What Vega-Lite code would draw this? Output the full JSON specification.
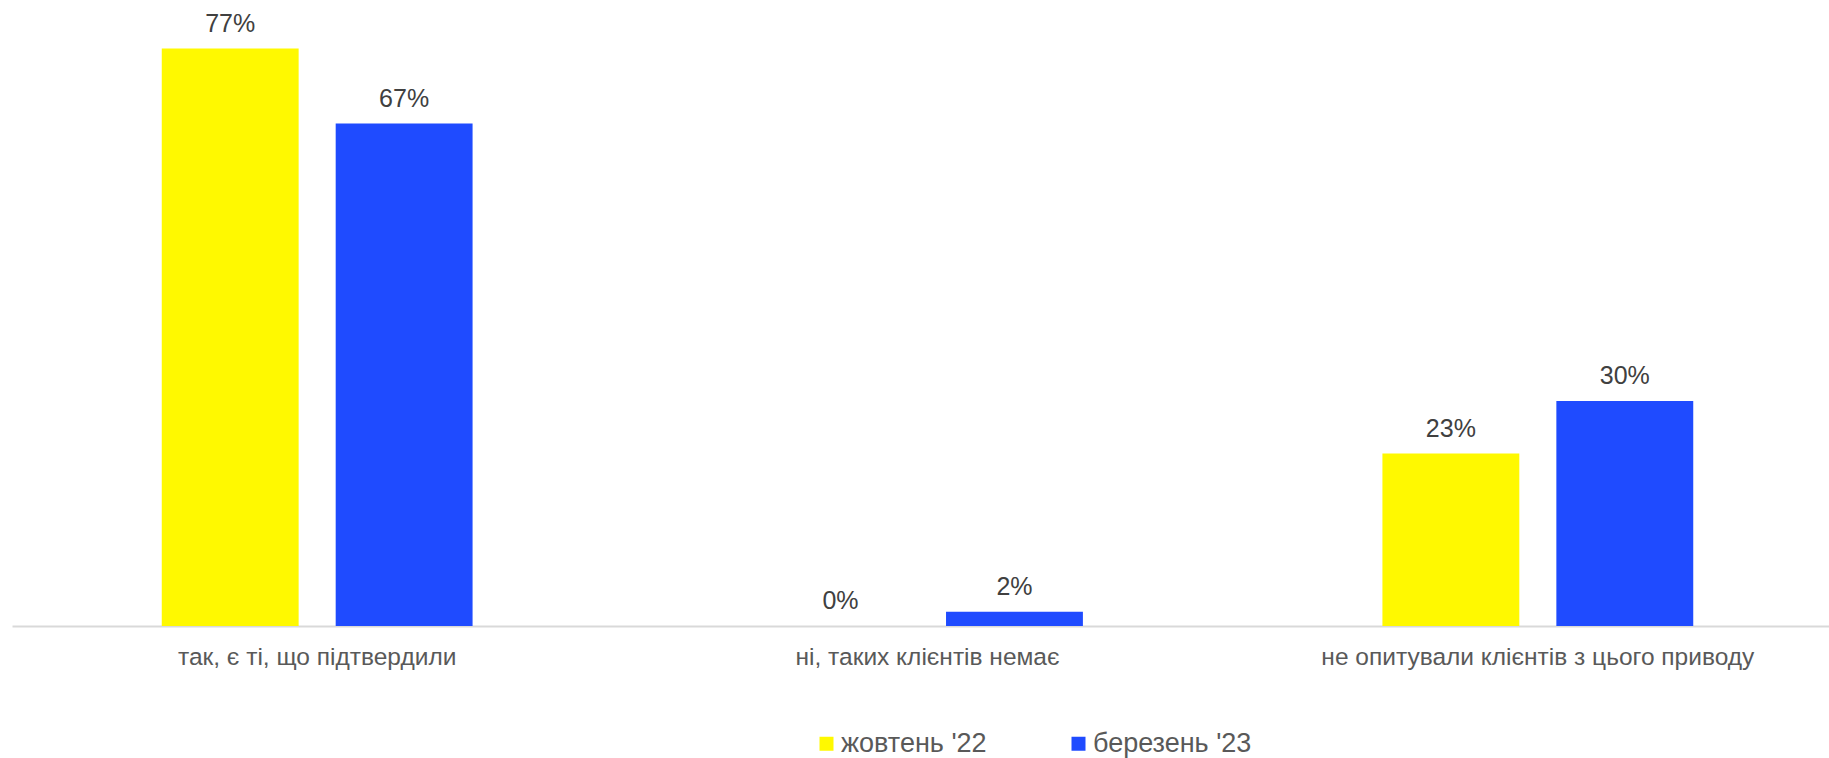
{
  "$schema": "https://vega.github.io/schema/vega-lite/v6.json",
  "width": 1829,
  "height": 626,
  "autosize": {"type": "none"},
  "padding": {"left": 0, "top": 0, "right": 0, "bottom": 132},
  "background": "white",
  "config": {
    "view": {"stroke": null},
    "font": "Liberation Sans"
  },
  "data": {
    "values": [
      {"category": "так, є ті, що підтвердили", "period": "жовтень '22", "value": 0.77},
      {"category": "так, є ті, що підтвердили", "period": "березень '23", "value": 0.67},
      {"category": "ні, таких клієнтів немає", "period": "жовтень '22", "value": 0.0},
      {"category": "ні, таких клієнтів немає", "period": "березень '23", "value": 0.019},
      {"category": "не опитували клієнтів з цього приводу", "period": "жовтень '22", "value": 0.23},
      {"category": "не опитували клієнтів з цього приводу", "period": "березень '23", "value": 0.30}
    ]
  },
  "encoding": {
    "x": {
      "field": "category",
      "type": "nominal",
      "sort": null,
      "scale": {"range": [12, 1843], "paddingInner": 0, "paddingOuter": 0},
      "axis": {
        "title": null,
        "labelAngle": 0,
        "labelFontSize": 24.5,
        "labelLimit": 0,
        "labelColor": "#595959",
        "labelPadding": 19,
        "ticks": false,
        "domainColor": "#d9d9d9",
        "domainWidth": 2,
        "grid": false
      }
    },
    "xOffset": {
      "field": "period",
      "type": "nominal",
      "sort": ["жовтень '22", "березень '23"],
      "scale": {"paddingInner": 0.213, "paddingOuter": 0.861}
    },
    "y": {
      "field": "value",
      "type": "quantitative",
      "scale": {"domain": [0, 0.8347], "nice": false},
      "axis": null
    }
  },
  "layer": [
    {
      "mark": {"type": "bar"},
      "encoding": {
        "color": {
          "field": "period",
          "type": "nominal",
          "sort": ["жовтень '22", "березень '23"],
          "scale": {"domain": ["жовтень '22", "березень '23"], "range": ["#FFF900", "#1F4BFF"]},
          "legend": {
            "title": null,
            "orient": "none",
            "direction": "horizontal",
            "legendX": 813,
            "legendY": 730,
            "padding": 0,
            "symbolType": "square",
            "symbolSize": 196,
            "symbolStrokeWidth": 0,
            "labelFontSize": 27,
            "labelColor": "#595959",
            "labelOffset": 1,
            "columnPadding": 78
          }
        }
      }
    },
    {
      "mark": {"type": "text", "baseline": "alphabetic", "dy": -17, "fontSize": 25, "color": "#404040"},
      "encoding": {
        "text": {"field": "value", "type": "quantitative", "format": ".0%"}
      }
    }
  ]
}
